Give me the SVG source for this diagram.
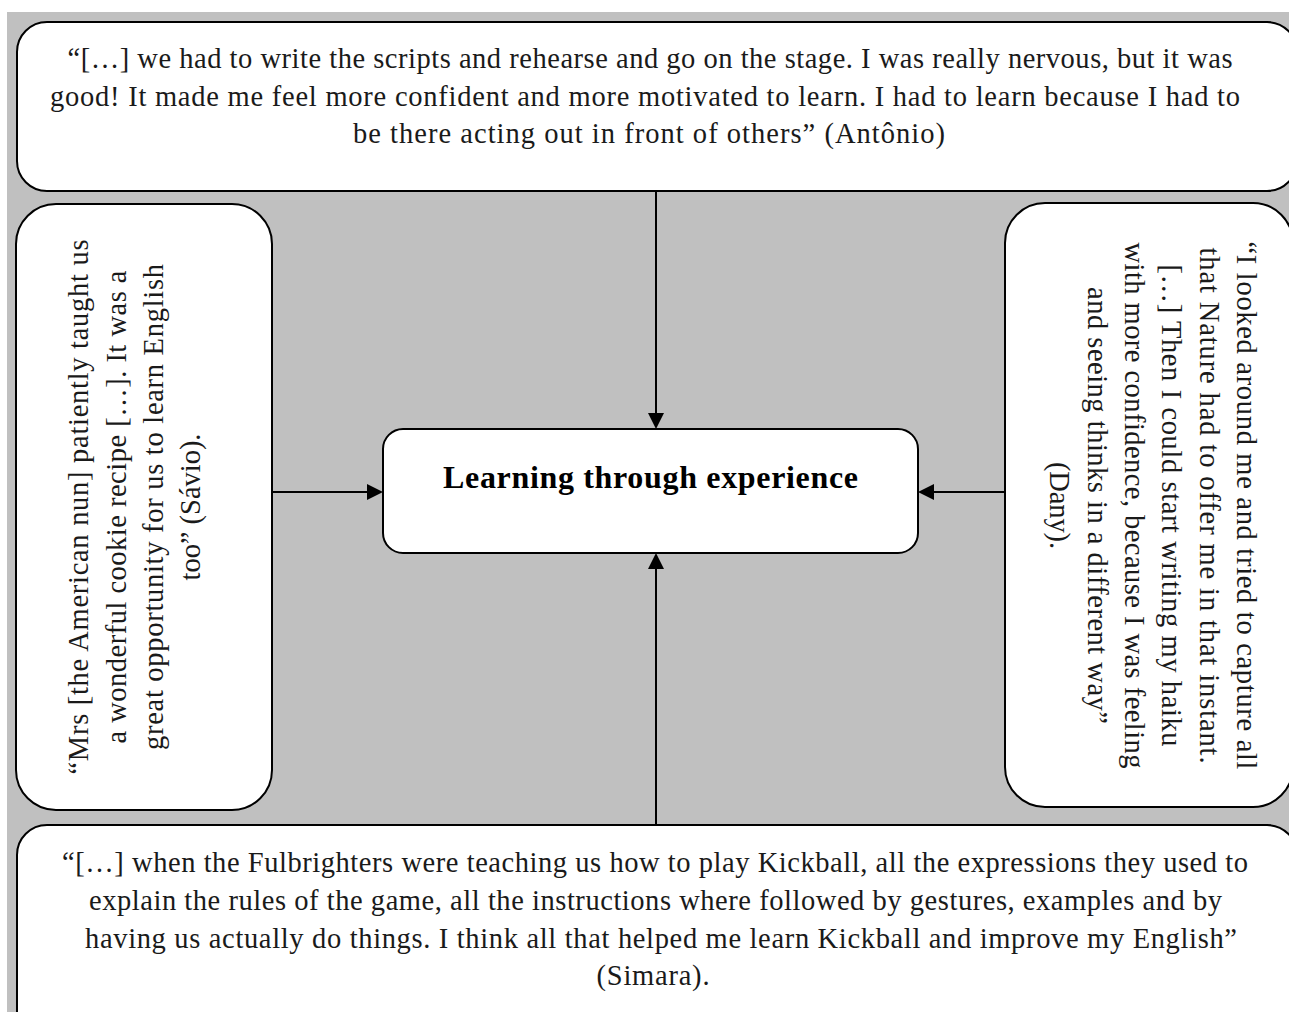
<svg xmlns="http://www.w3.org/2000/svg" width="1289" height="1012" viewBox="0 0 1289 1012">
  <defs>
    <style>
      .box { fill: #ffffff; stroke: #000000; stroke-width: 2; }
      .q { font-family: "Liberation Serif", "Times New Roman", serif; font-size: 28.5px; fill: #1a1a1a; text-anchor: middle; }
      .title { font-family: "Liberation Serif", "Times New Roman", serif; font-size: 32px; font-weight: bold; fill: #000000; text-anchor: middle; }
      .conn { stroke: #000000; stroke-width: 2; fill: none; }
    </style>
    <marker id="ah" viewBox="0 0 16 16" refX="0" refY="8" markerWidth="16" markerHeight="16" orient="auto" markerUnits="userSpaceOnUse">
      <path d="M0,0 L16,8 L0,16 z" fill="#000000"/>
    </marker>
  </defs>

  <rect x="0" y="0" width="1289" height="1012" fill="#ffffff"/>
  <rect x="7" y="12" width="1290" height="1010" fill="#c0c0c0"/>

  <g id="connectors">
    <line class="conn" x1="656" y1="191" x2="656" y2="413" marker-end="url(#ah)"/>
    <line class="conn" x1="656" y1="825" x2="656" y2="569" marker-end="url(#ah)"/>
    <line class="conn" x1="272" y1="492" x2="367" y2="492" marker-end="url(#ah)"/>
    <line class="conn" x1="1005" y1="492" x2="934" y2="492" marker-end="url(#ah)"/>
  </g>

  <g id="node-top">
    <rect class="box" x="17" y="22" width="1280" height="169" rx="30" ry="30"/>
    <text class="q" x="650" y="68" textLength="1165" lengthAdjust="spacing">“[…] we had to write the scripts and rehearse and go on the stage. I was really nervous, but it was</text>
    <text class="q" x="645" y="106" textLength="1190" lengthAdjust="spacing">good! It made me feel more confident and more motivated to learn. I had to learn because I had to</text>
    <text class="q" x="649" y="143" textLength="592" lengthAdjust="spacing">be there acting out in front of others” (Antônio)</text>
  </g>

  <g id="node-left">
    <rect class="box" x="16" y="204" width="256" height="606" rx="40" ry="40"/>
    <text class="q" transform="translate(88,507) rotate(-90)" x="0" y="0" textLength="535" lengthAdjust="spacing">“Mrs [the American nun] patiently taught us</text>
    <text class="q" transform="translate(125.5,507) rotate(-90)" x="0" y="0" textLength="473" lengthAdjust="spacing">a wonderful cookie recipe […]. It was a</text>
    <text class="q" transform="translate(163,507) rotate(-90)" x="0" y="0" textLength="486" lengthAdjust="spacing">great opportunity for us to learn English</text>
    <text class="q" transform="translate(200,507) rotate(-90)" x="0" y="0" textLength="147" lengthAdjust="spacing">too” (Sávio).</text>
  </g>

  <g id="node-right">
    <rect class="box" x="1005" y="203" width="288" height="604" rx="40" ry="40"/>
    <text class="q" transform="translate(1237,505.5) rotate(90)" x="0" y="0" textLength="528" lengthAdjust="spacing">“I looked around me and tried to capture all</text>
    <text class="q" transform="translate(1200,505.5) rotate(90)" x="0" y="0" textLength="516" lengthAdjust="spacing">that Nature had to offer me in that instant.</text>
    <text class="q" transform="translate(1162,505.5) rotate(90)" x="0" y="0" textLength="482" lengthAdjust="spacing">[…] Then I could start writing my haiku</text>
    <text class="q" transform="translate(1125,505.5) rotate(90)" x="0" y="0" textLength="526" lengthAdjust="spacing">with more confidence, because I was feeling</text>
    <text class="q" transform="translate(1088,505.5) rotate(90)" x="0" y="0" textLength="437" lengthAdjust="spacing">and seeing thinks in a different way”</text>
    <text class="q" transform="translate(1050,505.5) rotate(90)" x="0" y="0" textLength="87" lengthAdjust="spacing">(Dany).</text>
  </g>

  <g id="node-bottom">
    <rect class="box" x="17" y="825" width="1280" height="220" rx="30" ry="30"/>
    <text class="q" x="655" y="872" textLength="1186" lengthAdjust="spacing">“[…] when the Fulbrighters were teaching us how to play Kickball, all the expressions they used to</text>
    <text class="q" x="655.5" y="910" textLength="1133" lengthAdjust="spacing">explain the rules of the game, all the instructions where followed by gestures, examples and by</text>
    <text class="q" x="661" y="948" textLength="1152" lengthAdjust="spacing">having us actually do things. I think all that helped me learn Kickball and improve my English”</text>
    <text class="q" x="653" y="985" textLength="113" lengthAdjust="spacing">(Simara).</text>
  </g>

  <g id="node-center">
    <rect class="box" x="383" y="429" width="535" height="124" rx="20" ry="20"/>
    <text class="title" x="650.5" y="488" textLength="415" lengthAdjust="spacing">Learning through experience</text>
  </g>
</svg>
